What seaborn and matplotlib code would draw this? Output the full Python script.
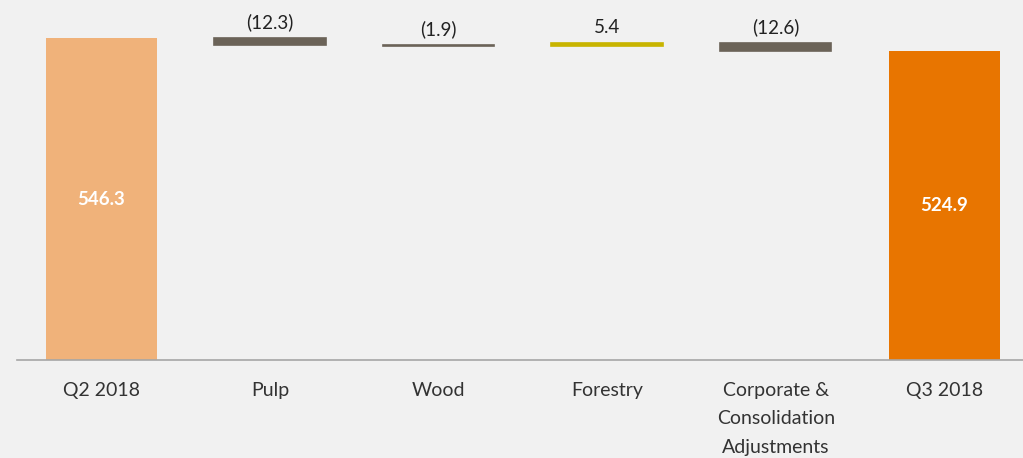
import numpy as np
import pandas as pd
import seaborn as sns
import matplotlib.pyplot as plt
from matplotlib.ticker import FixedLocator

# data
categories = ['Q2 2018', 'Pulp', 'Wood', 'Forestry',
              'Corporate &\nConsolidation\nAdjustments', 'Q3 2018']
start_total = 546.3
deltas = [-12.3, -1.9, 5.4, -12.6]
end_total = 524.9
labels = ['546.3', '(12.3)', '(1.9)', '5.4', '(12.6)', '524.9']
colors = ['#f0b27a', '#6b6358', '#6b6358', '#c8b400', '#6b6358', '#e87500']

# waterfall geometry
levels = np.cumsum([start_total] + deltas)
bottoms = [0]
heights = [start_total]
for i, d in enumerate(deltas):
    bottoms.append(min(levels[i], levels[i + 1]))
    heights.append(abs(d))
bottoms.append(0)
heights.append(end_total)

df = pd.DataFrame({'cat': categories, 'h': heights, 'b': bottoms})

sns.set_style('white')
plt.rcParams['font.family'] = ['Lato', 'DejaVu Sans']
bg = '#f1f1f1'

fig = plt.figure(figsize=(10.23, 4.58), dpi=100, facecolor=bg)
ax = fig.add_axes([17 / 1023, 98 / 458, 1011.6 / 1023, 360 / 458])
ax.set_facecolor(bg)

sns.barplot(data=df, x='cat', y='h', bottom=df['b'].values, color='gray',
            width=0.66, ax=ax, saturation=1)
for i, (p, c) in enumerate(zip(ax.patches, colors)):
    p.set_facecolor(c)
    if i in (0, len(colors) - 1):
        p.set_edgecolor('none')
    else:
        # thin delta bars get a small outline so they stay visible
        p.set_edgecolor(c)
        p.set_linewidth(1.2)

ax.set_xlim(-0.5, 5.5)
ax.set_ylim(0, 610.8)

# value labels
for i in range(len(categories)):
    if i in (0, len(categories) - 1):
        ax.text(i, heights[i] / 2, labels[i], ha='center', va='center',
                color='white', fontsize=13.5, fontweight='bold')
    else:
        ax.annotate(labels[i], (i, bottoms[i] + heights[i]), xytext=(0, 5),
                    textcoords='offset points', ha='center', va='bottom',
                    fontsize=13.5, color='#222222')

# axes styling
for s in ['top', 'left', 'right']:
    ax.spines[s].set_visible(False)
ax.spines['bottom'].set_color('#a6a6a6')
ax.spines['bottom'].set_linewidth(1.2)
ax.set_yticks([])
ax.set_xlabel('')
ax.set_ylabel('')
ax.xaxis.set_minor_locator(FixedLocator(np.arange(-0.5, 6, 1)))
ax.tick_params(axis='x', which='major', length=0, pad=16, labelsize=14,
               labelcolor='#333333')
ax.tick_params(axis='x', which='minor', length=7, width=1.2, color='#a6a6a6',
               direction='out')
for t in ax.get_xticklabels():
    t.set_linespacing(1.8)
    t.set_verticalalignment('top')

fig.savefig('out.png', dpi=100, facecolor=bg)
